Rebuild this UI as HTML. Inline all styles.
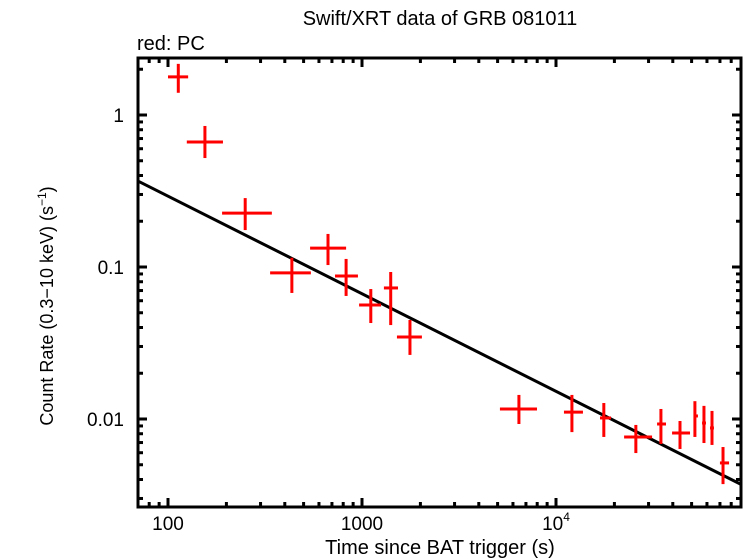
<!DOCTYPE html>
<html><head><meta charset="utf-8"><style>
html,body{margin:0;padding:0;background:#fff;}
svg{display:block;font-family:"Liberation Sans",sans-serif;}
</style></head><body>
<svg id="chart" width="746" height="558">
<text x="440" y="25" font-size="20" text-anchor="middle">Swift/XRT data of GRB 081011</text>
<text x="137" y="50" font-size="20">red: PC</text>
<text x="440" y="554" font-size="20" text-anchor="middle">Time since BAT trigger (s)</text>
<text transform="translate(53,306) rotate(-90)" font-size="18" text-anchor="middle">Count Rate (0.3−10 keV) (s<tspan font-size="12" dy="-7">−1</tspan><tspan dy="7">)</tspan></text>
<g id="ticks"></g>
<g id="model"></g>
<g id="points"></g>
<rect x="138" y="58" width="603" height="449" fill="none" stroke="#000" stroke-width="3"/>
</svg>
<script>
const times=[113,155,250,435,668,828,1110,1406,1767,6440,12080,17640,25800,34740,43570,52000,57900,63700,72600];
const timeLo=[100,125,190,336,540,726,966,1297,1514,5140,10990,16860,22440,33190,39650,51400,56600,62200,70000];
const timeHi=[127,192,343,545,828,953,1254,1533,2036,7980,13770,19220,31280,36900,49070,53900,59300,65200,78000];
const rates=[1.78,0.664,0.226,0.0914,0.133,0.0872,0.0562,0.0728,0.0346,0.01164,0.0111,0.01016,0.00762,0.00927,0.00809,0.01047,0.00941,0.00873,0.00514];
const rateLo=[1.40,0.521,0.175,0.0675,0.103,0.0645,0.0428,0.0415,0.0264,0.00927,0.0082,0.00762,0.00597,0.00685,0.00635,0.00762,0.00695,0.00675,0.00373];
const rateHi=[2.17,0.847,0.284,0.115,0.165,0.113,0.0716,0.0927,0.0448,0.0144,0.0144,0.01274,0.00914,0.01164,0.0097,0.0131,0.0122,0.0113,0.00654];
const modelNorm=0.0667, modelIndex=0.642;
const xTickVals=[100,1000,10000];
const yTickVals=[0.01,0.1,1];
const yTickLabels=["0.01","0.1","1"];
const L=138,R=741,T=58,B=507;
const X=t=>168+194*(Math.log10(t)-2);
const Y=r=>115-152*Math.log10(r);
const NS="http://www.w3.org/2000/svg";
function mk(tag,attrs,parent){const e=document.createElementNS(NS,tag);for(const k in attrs)e.setAttribute(k,attrs[k]);parent.appendChild(e);return e;}
const tg=document.getElementById('ticks');
for(let d=1;d<=4;d++){for(let m=1;m<10;m++){const v=m*Math.pow(10,d);const x=X(v);if(x<=L+1||x>=R-1)continue;const len=m===1?9:5;
const t1=mk('line',{x1:x,x2:x,y1:B,y2:B-len,stroke:'#000','stroke-width':3},tg);


const t2=mk('line',{x1:x,x2:x,y1:T,y2:T+len,stroke:'#000','stroke-width':3},tg);

}}
xTickVals.forEach(v=>{const x=X(v);const t=mk('text',{x:x,y:530,'font-size':19,'text-anchor':'middle'},tg);
if(v>=10000){t.innerHTML='10<tspan font-size="12" dy="-9">'+Math.round(Math.log10(v))+'</tspan>';}else t.textContent=String(v);

});
for(let d=-3;d<=0;d++){for(let m=1;m<10;m++){const v=m*Math.pow(10,d);const y=Y(v);if(y<=T+1||y>=B-1)continue;const len=m===1?9:5;
const t1=mk('line',{x1:L,x2:L+len,y1:y,y2:y,stroke:'#000','stroke-width':3},tg);


const t2=mk('line',{x1:R,x2:R-len,y1:y,y2:y,stroke:'#000','stroke-width':3},tg);

}}
yTickVals.forEach((v,i)=>{const t=mk('text',{x:124,y:Y(v)+7,'font-size':19,'text-anchor':'end'},tg);t.textContent=yTickLabels[i];

});
const tmin=Math.pow(10,2+(L-168)/194), tmax=Math.pow(10,2+(R-168)/194);
const ml=mk('line',{x1:L,y1:Y(modelNorm*Math.pow(tmin/1000,-modelIndex)),x2:R,y2:Y(modelNorm*Math.pow(tmax/1000,-modelIndex)),stroke:'#000','stroke-width':3},document.getElementById('model'));


const pg=document.getElementById('points');
times.forEach((t,i)=>{const g=mk('g',{},pg);


mk('line',{x1:X(timeLo[i]),x2:X(timeHi[i]),y1:Y(rates[i]),y2:Y(rates[i]),stroke:'#f00','stroke-width':3},g);
mk('line',{x1:X(t),x2:X(t),y1:Y(rateLo[i]),y2:Y(rateHi[i]),stroke:'#f00','stroke-width':3},g);});
</script>
</body></html>
